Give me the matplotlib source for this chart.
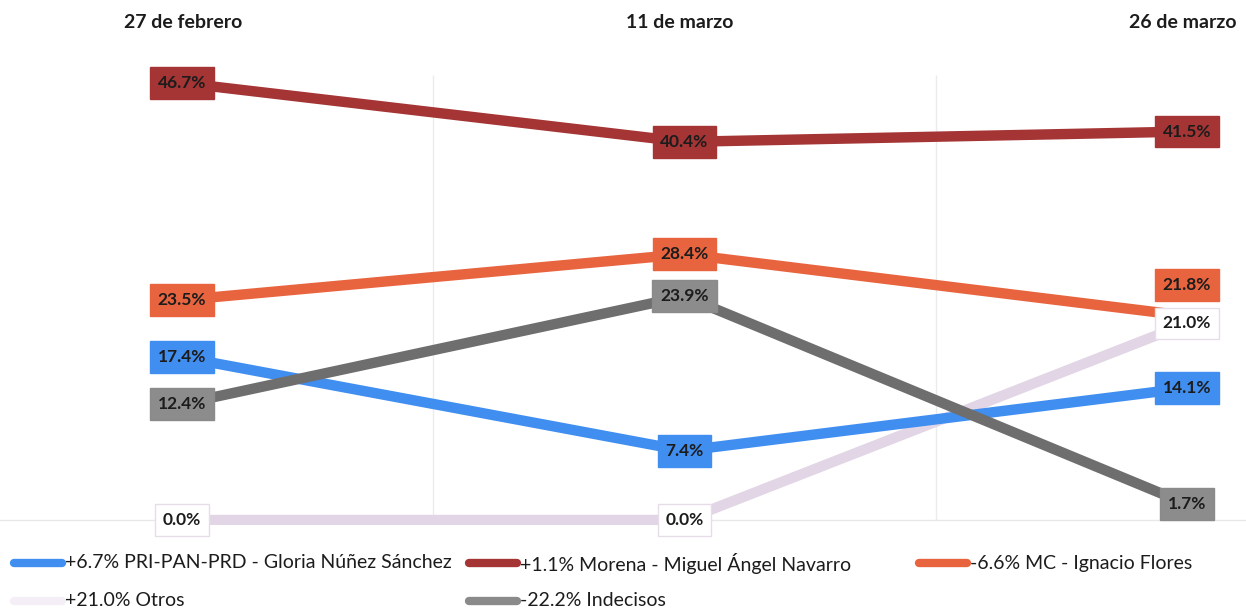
import matplotlib
matplotlib.use("Agg")
import matplotlib.pyplot as plt
from matplotlib.lines import Line2D

plt.rcParams['font.family'] = ['Lato', 'DejaVu Sans']

dates = ["27 de febrero", "11 de marzo", "26 de marzo"]
series_names = ["PRI-PAN-PRD - Gloria Núñez Sánchez", "Morena - Miguel Ángel Navarro",
                "MC - Ignacio Flores", "Otros", "Indecisos"]
legend_changes = ["+6.7%", "+1.1%", "-6.6%", "+21.0%", "-22.2%"]
pri = [17.4, 7.4, 14.1]
morena = [46.7, 40.4, 41.5]
mc = [23.5, 28.4, 21.8]
otros = [0.0, 0.0, 21.0]
indecisos = [12.4, 23.9, 1.7]

values = [pri, morena, mc, otros, indecisos]
colors = ["#3f8ef0", "#a53434", "#e8643f", "#e2d6e6", "#6e6e6e"]
legend_colors = ["#3f8ef0", "#a53434", "#e8643f", "#f4eef6", "#8a8a8a"]
box_edge = ["#3f8ef0", "#a53434", "#e8643f", "#e6dde8", "#8a8a8a"]
box_face = ["#3f8ef0", "#a53434", "#e8643f", "#ffffff", "#8c8c8c"]
zorders = [3, 3, 3, 2, 3.5]

W, H = 1246, 611
fig = plt.figure(figsize=(W / 100, H / 100), dpi=100)
ax_bottom_px = 525
ax = fig.add_axes([0, (H - ax_bottom_px) / H, 1, ax_bottom_px / H])

x = list(range(len(dates)))
px_per_unit = 502.5
left_px = 182
ax.set_xlim(-left_px / px_per_unit, (W - left_px) / px_per_unit)
px_per_pct = 9.36
zero_px_from_axbottom = ax_bottom_px - 520
ax.set_ylim(-zero_px_from_axbottom / px_per_pct, (ax_bottom_px - zero_px_from_axbottom) / px_per_pct)

ax.vlines([0.5, 1.5], 0, 47.5, color="#ebebeb", lw=1, zorder=0)
ax.axhline(0, color="#e8e8e8", lw=1, zorder=0)

label_offsets = {(2, 2): 31}  # MC at last point shifted up (pixels)

for i, vals in enumerate(values):
    ax.plot(x, vals, color=colors[i], lw=7.5, solid_capstyle='butt', zorder=zorders[i])
    for j, v in enumerate(vals):
        dy = label_offsets.get((i, j), 0)
        ax.annotate(f"{v:.1f}%", (x[j], v), xytext=(0, dy * 0.72), textcoords='offset points',
                    ha='center', va='center', fontsize=12.5, fontweight='bold', color="#1c1c1c",
                    zorder=zorders[i] + 3,
                    bbox=dict(boxstyle='square,pad=0.45', fc=box_face[i], ec=box_edge[i], lw=1))

ax.set_axis_off()

# Date headers
date_px = [183, 680, 1183]
for d, xp in zip(dates, date_px):
    fig.text(xp / W, 1 - 22 / H, d, ha='center', va='center', fontsize=14, fontweight='bold', color="#1c1c1c")

# Legend
leg_pos = [(10, 563), (465, 563), (915, 563), (10, 601), (465, 601)]
for i in range(len(series_names)):
    lx, ly = leg_pos[i]
    fig.add_artist(Line2D([(lx + 4) / W, (lx + 52) / W], [1 - ly / H, 1 - ly / H],
                          color=legend_colors[i], lw=6, solid_capstyle='round', transform=fig.transFigure))
    fig.text((lx + 55) / W, 1 - ly / H, f"{legend_changes[i]} {series_names[i]}",
             ha='left', va='center', fontsize=14, color="#1c1c1c")

fig.savefig("out.png", dpi=100)
